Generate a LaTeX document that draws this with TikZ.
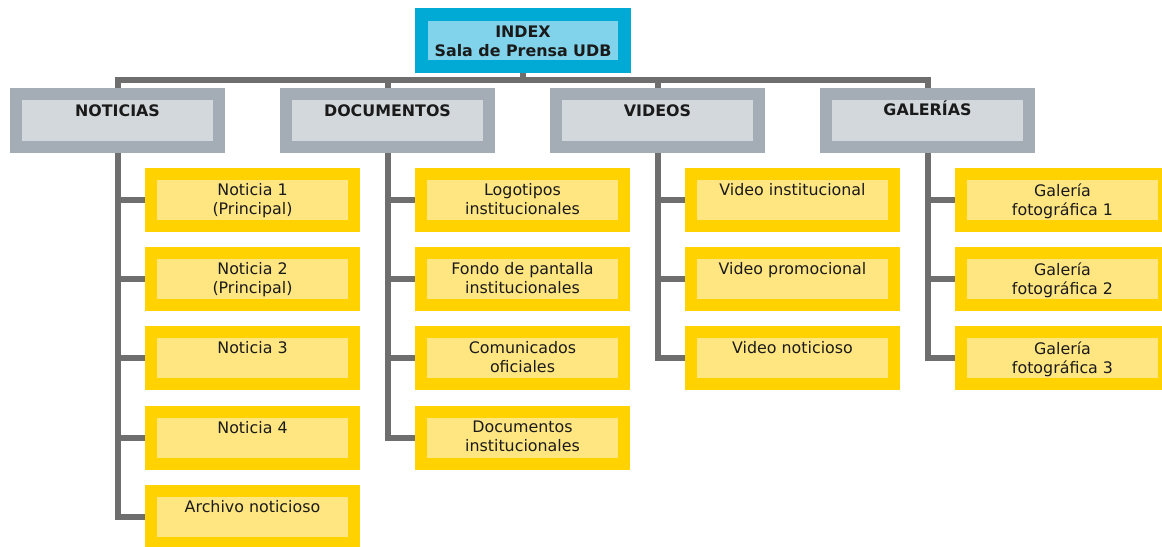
\documentclass[tikz,border=0pt]{standalone}
\usepackage{fontspec}
\setmainfont{DejaVu Sans}
\definecolor{indexborde}{HTML}{00AAD4}
\definecolor{indexfondo}{HTML}{80D3EA}
\definecolor{secborde}{HTML}{A4ACB6}
\definecolor{secfondo}{HTML}{D3D8DC}
\definecolor{hojaborde}{HTML}{FFD200}
\definecolor{hojafondo}{HTML}{FFE680}
\definecolor{linea}{HTML}{6E6E6E}
\definecolor{texto}{HTML}{1A1A1A}

\begin{document}
\begin{tikzpicture}[x=0.75pt,y=0.75pt,yscale=-1,
	indice/.style={draw=indexborde,fill=indexfondo,line width=9.75pt,outer sep=4.875pt,inner sep=0pt,minimum width=152.25pt,minimum height=39pt},
	seccion/.style={draw=secborde,fill=secfondo,line width=9pt,outer sep=4.5pt,inner sep=0pt,minimum width=152.25pt,minimum height=39.75pt},
	hoja/.style={draw=hojaborde,fill=hojafondo,line width=9pt,outer sep=4.5pt,inner sep=0pt,minimum width=152.25pt,minimum height=39pt},
	txt/.style={anchor=north,inner sep=0pt,align=center,text=texto,font=\fontsize{11.9}{14.25}\selectfont},
	tit/.style={txt,font=\bfseries\fontsize{11.9}{14.25}\selectfont},
	conn/.style={draw=linea,line width=4.5pt}]
			\useasboundingbox (0,0) rectangle (1162,546);

			% cajas
			\node (indice) [indice] at (523,40.5) {};
			\node (noticias) [seccion] at (117.5,120.5) {};
			\node (documentos) [seccion] at (387.5,120.5) {};
			\node (videos) [seccion] at (657.5,120.5) {};
			\node (galerias) [seccion] at (927.5,120.5) {};

			\node (not1) [hoja] at (252.5,200) {};
			\node (not2) [hoja] at (252.5,279.2) {};
			\node (not3) [hoja] at (252.5,358.4) {};
			\node (not4) [hoja] at (252.5,437.6) {};
			\node (not5) [hoja] at (252.5,516.8) {};
			\node (doc1) [hoja] at (522.5,200) {};
			\node (doc2) [hoja] at (522.5,279.2) {};
			\node (doc3) [hoja] at (522.5,358.4) {};
			\node (doc4) [hoja] at (522.5,437.6) {};
			\node (vid1) [hoja] at (792.5,200) {};
			\node (vid2) [hoja] at (792.5,279.2) {};
			\node (vid3) [hoja] at (792.5,358.4) {};
			\node (gal1) [hoja] at (1062.5,200) {};
			\node (gal2) [hoja] at (1062.5,279.2) {};
			\node (gal3) [hoja] at (1062.5,358.4) {};

			% textos
			\node (indiceT) [tit] at ([yshift=13.5pt]indice.north) {INDEX\\Sala de Prensa UDB};
			\node (noticiasT) [tit] at ([yshift=12pt]noticias.north) {NOTICIAS};
			\node (documentosT) [tit] at ([yshift=12pt]documentos.north) {DOCUMENTOS};
			\node (videosT) [tit] at ([yshift=12pt]videos.north) {VIDEOS};
			\node (galeriasT) [tit] at ([yshift=9.6pt]galerias.north) {GALERÍAS};

			\node (not1T) [txt] at ([yshift=11.4pt]not1.north) {Noticia 1\\(Principal)};
			\node (not2T) [txt] at ([yshift=11.4pt]not2.north) {Noticia 2\\(Principal)};
			\node (not3T) [txt] at ([yshift=11.4pt]not3.north) {Noticia 3};
			\node (not4T) [txt] at ([yshift=11.4pt]not4.north) {Noticia 4};
			\node (not5T) [txt] at ([yshift=11.4pt]not5.north) {Archivo noticioso};
			\node (doc1T) [txt] at ([yshift=11.4pt]doc1.north) {Logotipos\\institucionales};
			\node (doc2T) [txt] at ([yshift=11.4pt]doc2.north) {Fondo de pantalla\\institucionales};
			\node (doc3T) [txt] at ([yshift=11.4pt]doc3.north) {Comunicados\\oficiales};
			\node (doc4T) [txt] at ([yshift=11.4pt]doc4.north) {Documentos\\institucionales};
			\node (vid1T) [txt] at ([yshift=11.4pt]vid1.north) {Video institucional};
			\node (vid2T) [txt] at ([yshift=11.4pt]vid2.north) {Video promocional};
			\node (vid3T) [txt] at ([yshift=11.4pt]vid3.north) {Video noticioso};
			\node (gal1T) [txt] at ([yshift=11.4pt]gal1.north) {Galería\\fotográfica 1};
			\node (gal2T) [txt] at ([yshift=11.4pt]gal2.north) {Galería\\fotográfica 2};
			\node (gal3T) [txt] at ([yshift=11.4pt]gal3.north) {Galería\\fotográfica 3};

			% conectores
			\coordinate (bus) at (523,80);
			\draw[conn] (indice.south) -- (bus);
			\draw[conn] (noticias.north) -- (noticias.north |- bus) -| (galerias.north);
			\draw[conn] (documentos.north) -- (documentos.north |- bus);
			\draw[conn] (videos.north) -- (videos.north |- bus);

			\draw[conn] (noticias.south) |- (not1.west);
			\draw[conn] (noticias.south) |- (not2.west);
			\draw[conn] (noticias.south) |- (not3.west);
			\draw[conn] (noticias.south) |- (not4.west);
			\draw[conn] (noticias.south) |- (not5.west);
			\draw[conn] (documentos.south) |- (doc1.west);
			\draw[conn] (documentos.south) |- (doc2.west);
			\draw[conn] (documentos.south) |- (doc3.west);
			\draw[conn] (documentos.south) |- (doc4.west);
			\draw[conn] (videos.south) |- (vid1.west);
			\draw[conn] (videos.south) |- (vid2.west);
			\draw[conn] (videos.south) |- (vid3.west);
			\draw[conn] (galerias.south) |- (gal1.west);
			\draw[conn] (galerias.south) |- (gal2.west);
			\draw[conn] (galerias.south) |- (gal3.west);
\end{tikzpicture}
\end{document}
